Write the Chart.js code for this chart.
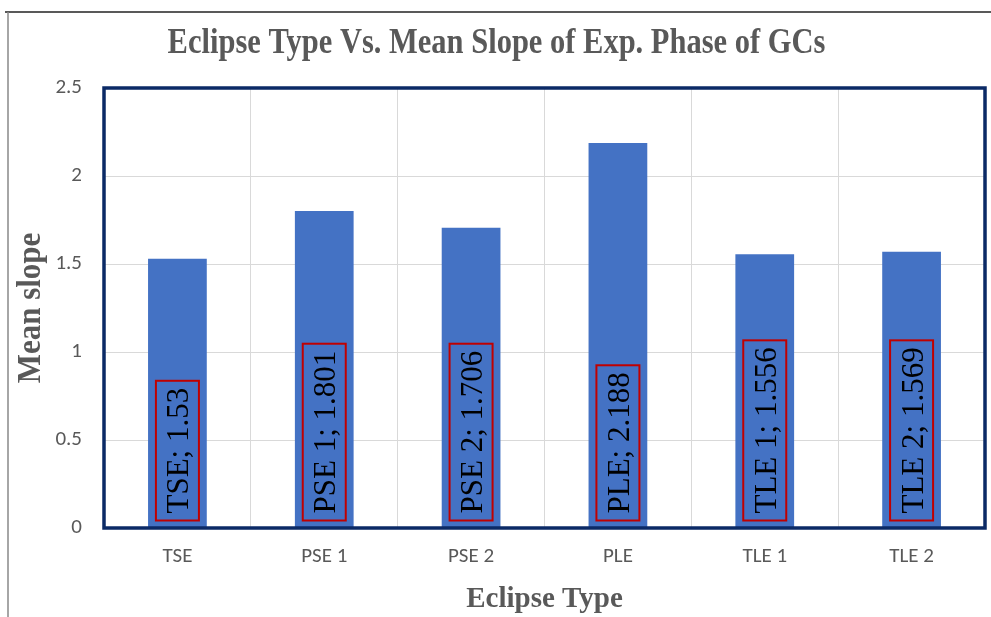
<!DOCTYPE html>
<html><head><meta charset="utf-8">
<script src="https://cdn.jsdelivr.net/npm/chart.js@4"></script>
<style>html,body{margin:0;padding:0;background:#fff}#wrap{width:991px;height:617px}</style>
</head><body><div id="wrap"><canvas id="c" width="991" height="617"></canvas></div>
<script>
const categories = ["TSE", "PSE 1", "PSE 2", "PLE", "TLE 1", "TLE 2"];
const meanSlope = [1.53, 1.801, 1.706, 2.188, 1.556, 1.569];
const yTicks = [0, 0.5, 1, 1.5, 2, 2.5];
const chartTitle = "Eclipse Type Vs. Mean Slope of Exp. Phase of GCs";
const xTitle = "Eclipse Type";
const yTitle = "Mean slope";

const serif = "'Liberation Serif','Times New Roman',serif";
const sans = "Carlito,'Liberation Sans','Open Sans',sans-serif";

const decor = {
  id: 'decor',
  beforeDraw(chart) {
    const ctx = chart.ctx;
    ctx.save();
    ctx.fillStyle = '#fff';
    ctx.fillRect(0, 0, chart.width, chart.height);
    ctx.strokeStyle = '#222';
    ctx.lineWidth = 1.5;
    ctx.beginPath(); ctx.moveTo(5, 12); ctx.lineTo(chart.width, 12); ctx.stroke();
    ctx.strokeStyle = '#888';
    ctx.beginPath(); ctx.moveTo(8, 12); ctx.lineTo(8, chart.height); ctx.stroke();
    ctx.restore();
  },
  afterDatasetsDraw(chart) {
    const ctx = chart.ctx;
    const meta = chart.getDatasetMeta(0);
    const a = chart.chartArea;
    ctx.save();
    ctx.font = "31px " + serif;
    meta.data.forEach((bar, i) => {
      const txt = categories[i] + "; " + meanSlope[i];
      const w = ctx.measureText(txt).width;
      const boxH = w + 14;
      const boxW = 43;
      const bottom = bar.base - 7;
      const cx = bar.x;
      ctx.strokeStyle = '#c00000';
      ctx.lineWidth = 2;
      ctx.strokeRect(cx - boxW / 2, bottom - boxH, boxW, boxH);
      ctx.save();
      ctx.translate(cx + 11, bottom - boxH / 2);
      ctx.rotate(-Math.PI / 2);
      ctx.fillStyle = '#000';
      ctx.textAlign = 'center';
      ctx.textBaseline = 'alphabetic';
      ctx.fillText(txt, 0, 0);
      ctx.restore();
    });
    ctx.strokeStyle = '#0b2a66';
    ctx.lineWidth = 3.5;
    ctx.strokeRect(a.left, a.top, a.right - a.left, a.bottom - a.top);

    // titles
    ctx.fillStyle = '#595959';
    ctx.textAlign = 'center';
    ctx.textBaseline = 'alphabetic';
    ctx.save();
    ctx.font = "bold 30.5px " + serif;
    ctx.translate(chart.width / 2 + 1, 53);
    ctx.scale(1, 1.14);
    ctx.fillText(chartTitle, 0, 0);
    ctx.restore();

    ctx.save();
    ctx.font = "bold 29px " + serif;
    ctx.fillText(xTitle, (a.left + a.right) / 2, 607);
    ctx.restore();

    ctx.save();
    ctx.font = "bold 31px " + serif;
    ctx.translate(40, (a.top + a.bottom) / 2);
    ctx.rotate(-Math.PI / 2);
    ctx.scale(1, 1.06);
    ctx.fillText(yTitle, 0, 0);
    ctx.restore();
    ctx.restore();
  }
};

new Chart(document.getElementById('c'), {
  type: 'bar',
  data: {
    labels: categories,
    datasets: [{
      data: meanSlope,
      backgroundColor: '#4472c4',
      borderWidth: 0,
      barPercentage: 0.8,
      categoryPercentage: 0.5
    }]
  },
  options: {
    responsive: false,
    animation: false,
    devicePixelRatio: 1,
    layout: { padding: { left: 0, right: 6, top: 88, bottom: 0 } },
    plugins: {
      legend: { display: false },
      tooltip: { enabled: false },
      title: { display: false }
    },
    scales: {
      x: {
        grid: { color: '#d9d9d9', lineWidth: 1, drawTicks: false, offset: true },
        border: { display: false },
        ticks: { color: '#595959', font: { family: sans, size: 21 }, padding: 16 },
        afterFit(s) { s.height = 89; }
      },
      y: {
        min: 0, max: 2.5,
        afterBuildTicks(s) { s.ticks = yTicks.map(v => ({ value: v })); },
        grid: { color: '#d9d9d9', lineWidth: 1, drawTicks: false },
        border: { display: false },
        ticks: { color: '#595959', font: { family: sans, size: 21 }, padding: 22, callback: v => String(v) },
        afterFit(s) { s.width = 104; }
      }
    }
  },
  plugins: [decor]
});
</script>
</body></html>
